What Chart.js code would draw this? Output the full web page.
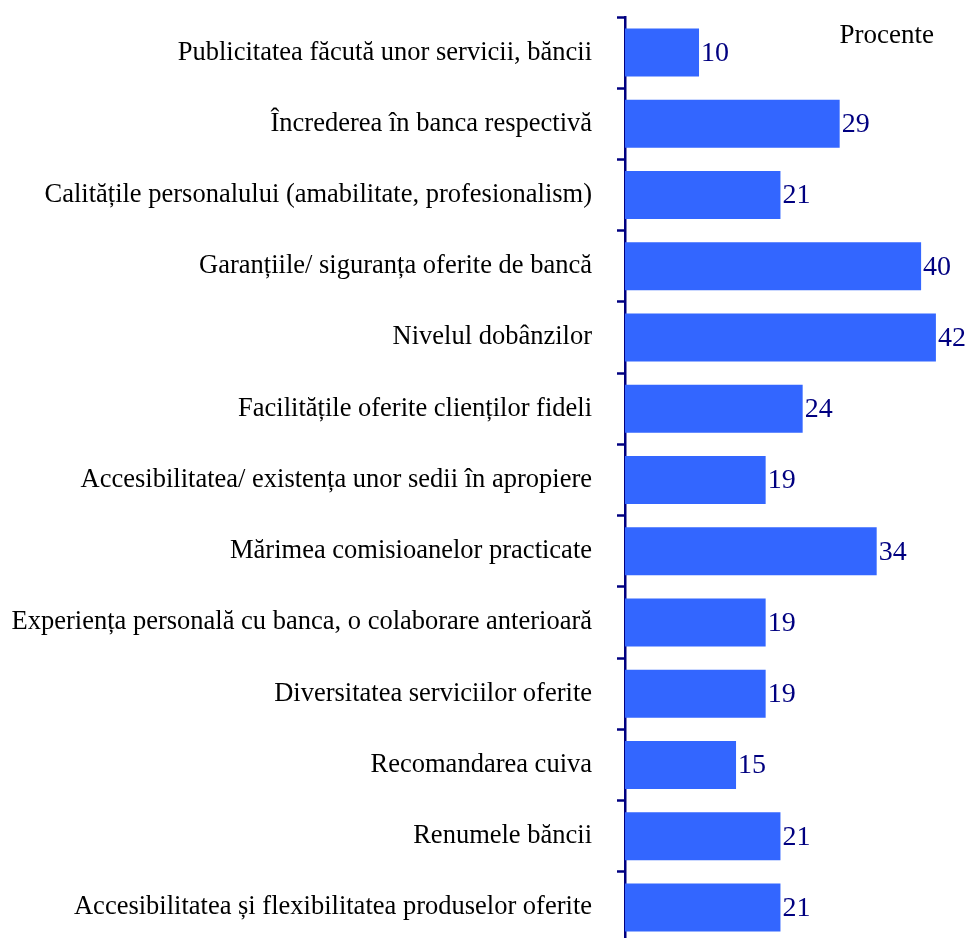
<!DOCTYPE html>
<html>
<head>
<meta charset="utf-8">
<script src="https://cdn.jsdelivr.net/npm/chart.js@4/dist/chart.umd.min.js"></script>
<style>
  html, body { margin: 0; padding: 0; background: #fff; overflow: hidden; }
  #wrap { position: relative; width: 967px; height: 960px; }
</style>
</head>
<body>
<div id="wrap"><canvas id="c" width="967" height="960"></canvas></div>
<script>
// Reasons for choosing a bank, share of respondents
const categories = [
  'Publicitatea făcută unor servicii, băncii',
  'Încrederea în banca respectivă',
  'Calitățile personalului (amabilitate, profesionalism)',
  'Garanțiile/ siguranța oferite de bancă',
  'Nivelul dobânzilor',
  'Facilitățile oferite clienților fideli',
  'Accesibilitatea/ existența unor sedii în apropiere',
  'Mărimea comisioanelor practicate',
  'Experiența personală cu banca, o colaborare anterioară',
  'Diversitatea serviciilor oferite',
  'Recomandarea cuiva',
  'Renumele băncii',
  'Accesibilitatea și flexibilitatea produselor oferite'
];
const percentValues = [10, 29, 21, 40, 42, 24, 19, 34, 19, 19, 15, 21, 21];
const unitLabel = 'Procente';

const NAVY = '#000080';
const SERIF = '"Liberation Serif", "Times New Roman", serif';

// Writes each bar's value just past its end
const valueLabels = {
  id: 'valueLabels',
  afterDatasetsDraw(chart) {
    const ctx = chart.ctx;
    const meta = chart.getDatasetMeta(0);
    ctx.save();
    ctx.font = '28px ' + SERIF;
    ctx.fillStyle = NAVY;
    ctx.textAlign = 'left';
    ctx.textBaseline = 'middle';
    meta.data.forEach((bar, i) => {
      ctx.fillText(String(percentValues[i]), bar.x + 2, bar.y + 1);
    });
    ctx.restore();
  }
};

// Unit caption in the upper right of the plot
const unitCaption = {
  id: 'unitCaption',
  afterDraw(chart) {
    const ctx = chart.ctx;
    const area = chart.chartArea;
    ctx.save();
    ctx.font = '27px ' + SERIF;
    ctx.fillStyle = '#000';
    ctx.textAlign = 'right';
    ctx.textBaseline = 'alphabetic';
    ctx.fillText(unitLabel, area.right - 33, area.top + 26);
    ctx.restore();
  }
};

new Chart(document.getElementById('c'), {
  type: 'bar',
  data: {
    labels: categories,
    datasets: [{
      data: percentValues,
      backgroundColor: '#3366FF',
      borderWidth: 0,
      barPercentage: 0.674,
      categoryPercentage: 1.0
    }]
  },
  options: {
    indexAxis: 'y',
    responsive: false,
    animation: false,
    devicePixelRatio: 1,
    layout: { padding: { top: 17, bottom: 17, left: 0, right: 0 } },
    plugins: {
      legend: { display: false },
      tooltip: { enabled: false }
    },
    scales: {
      x: {
        display: false,
        min: 0,
        max: 46.2
      },
      y: {
        position: 'left',
        afterFit(scale) {
          scale.width = 625;
          scale.paddingTop = 0;
          scale.paddingBottom = 0;
        },
        border: { display: true, color: NAVY, width: 2.5 },
        grid: {
          display: true,
          offset: true,
          drawOnChartArea: false,
          drawTicks: true,
          tickLength: 8,
          tickWidth: 2.5,
          color: NAVY
        },
        ticks: {
          color: '#000',
          padding: 25,
          autoSkip: false,
          font: { family: SERIF, size: 26.5 }
        }
      }
    }
  },
  plugins: [valueLabels, unitCaption]
});
</script>
</body>
</html>
